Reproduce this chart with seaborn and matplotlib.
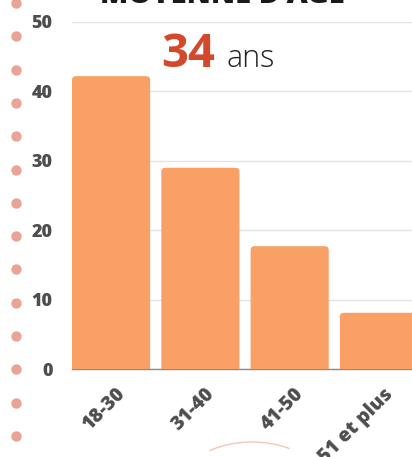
import numpy as np
import pandas as pd
import matplotlib
matplotlib.use("Agg")
import matplotlib.pyplot as plt
import matplotlib.transforms as mtransforms
from matplotlib.patches import FancyBboxPatch, Arc
import seaborn as sns

# data
age_groups = ["18-30", "31-40", "41-50", "51 et plus"]
shares = [42.2, 29.0, 17.7, 8.1]
mean_age = "34"
bar_color = "#F8A066"

df = pd.DataFrame({"age": age_groups, "share": shares})

sns.set_theme(style="white")
plt.rcParams["font.family"] = ["Open Sans", "DejaVu Sans"]

W, H = 412, 457
fig = plt.figure(figsize=(W / 100, H / 100), dpi=100)
ax = fig.add_axes([72 / W, (H - 369) / H, 1 - 72 / W, (369 - 22) / H])

sns.barplot(data=df, x="age", y="share", color=bar_color, saturation=1,
            width=0.875, ax=ax, zorder=3)

# rounded top corners: replace rectangles by rounded boxes, bottom clipped
ax.set_ylim(0, 50)
ax.set_xlim(-0.4375, 3.37)
for p in list(ax.patches):
    x, w, h = p.get_x(), p.get_width(), p.get_height()
    p.remove()
    ax.add_patch(FancyBboxPatch((x, -3), w, h + 3,
                                boxstyle="round,pad=0,rounding_size=0.045",
                                mutation_aspect=12.9, fc=bar_color, ec="none",
                                zorder=3, clip_on=True))

ax.set_yticks(np.arange(0, 51, 10))
ax.yaxis.grid(True, color="#e3e3e3", lw=1, zorder=0)
for s in ["top", "right", "left"]:
    ax.spines[s].set_visible(False)
ax.spines["bottom"].set_color("#8a8a8a")
ax.spines["bottom"].set_linewidth(1)
ax.set_xlabel("")
ax.set_ylabel("")
ax.tick_params(axis="y", length=0, pad=14, labelsize=13, labelcolor="#4d4d4d")
ax.tick_params(axis="x", length=0, pad=11, labelsize=14, labelcolor="#4d4d4d")
for lab in ax.get_yticklabels():
    lab.set_fontweight("heavy")
shift = mtransforms.ScaledTranslation(4 / 100, 0, fig.dpi_scale_trans)
for lab in ax.get_xticklabels():
    lab.set_fontweight("heavy")
    lab.set_rotation(45)
    lab.set_ha("right")
    lab.set_rotation_mode("anchor")
    lab.set_transform(lab.get_transform() + shift)

# headline (cut off at the top) and mean age
fig.text(222 / W, 1 - 3 / H, "MOYENNE D'AGE", ha="center", va="baseline",
         fontsize=21, fontweight="heavy", color="#1a1a1a")
fig.text(161 / W, 1 - 67 / H, mean_age, ha="left", va="baseline",
         fontsize=34, fontweight="bold", color="#D4492B")
fig.text(227 / W, 1 - 67 / H, "ans", ha="left", va="baseline",
         fontsize=22, fontweight="light", color="#222222")

# decorative dotted line on the left
dot_y = 3 + 33.3 * np.arange(14)
fig.add_artist(plt.Line2D([16 / W] * len(dot_y), 1 - dot_y / H, ls="none",
                          marker="o", ms=7.5, mfc="#E9A497", mec="none",
                          transform=fig.transFigure))

# decorative arc at the bottom
fig.add_artist(Arc((252 / W, 1 - 478 / H), 130 / W, 72 / H, theta1=35, theta2=150,
                   color="#F2C7B8", lw=1, transform=fig.transFigure))

fig.savefig("out.png", dpi=100)
